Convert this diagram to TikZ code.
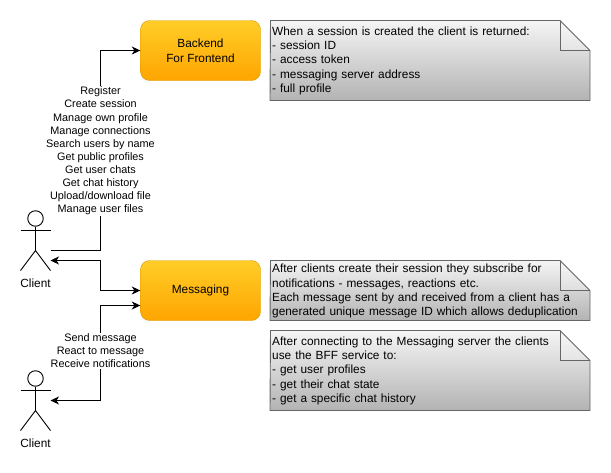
\documentclass[tikz,border=0pt]{standalone}
\usepackage{fontspec}
\setmainfont{Liberation Sans}
\usetikzlibrary{arrows.meta}
\definecolor{boxtop}{HTML}{FFCD28}
\definecolor{boxbot}{HTML}{FFA500}
\definecolor{boxline}{HTML}{D79B00}
\definecolor{notetop}{HTML}{F5F5F5}
\definecolor{notebot}{HTML}{B3B3B3}
\definecolor{noteline}{HTML}{666666}
\tikzset{
  service/.style={draw=boxline,rounded corners=9pt,top color=boxtop,bottom color=boxbot,
    minimum width=120pt,minimum height=60pt,inner sep=0pt,align=center,font=\fontsize{11.85}{15}\selectfont},
  notetext/.style={anchor=north west,inner sep=0pt,text width=316pt,align=left,font=\fontsize{11.85}{14.3}\selectfont},
  flowlabel/.style={fill=white,inner sep=0pt,inner ysep=1pt,align=center,font=\fontsize{10.85}{13.1}\selectfont},
  actorlabel/.style={inner sep=0pt,font=\fontsize{11.85}{14}\selectfont},
  actorline/.style={draw=black,line width=0.9pt},
  link/.style={draw=black,line width=0.9pt,-{Stealth[length=8.5pt,width=8pt,inset=2.5pt]}},
  bothlink/.style={draw=black,line width=0.9pt,{Stealth[length=8.5pt,width=8pt,inset=2.5pt]}-{Stealth[length=8.5pt,width=8pt,inset=2.5pt]}}
}
\newcommand{\notebox}[3]{%
  \shade[top color=notetop,bottom color=notebot] (#1,#2) -- (560,#2) -- (590,#2+30) -- (590,#3) -- (270,#3) -- cycle;
  \fill[white,opacity=0.25] (560,#2) -- (590,#2+30) -- (560,#2+30) -- cycle;
  \draw[noteline,line width=0.9pt,line join=miter] (#1,#2) -- (560,#2) -- (590,#2+30) -- (590,#3) -- (270,#3) -- cycle;
  \draw[noteline,line width=0.9pt] (560,#2) -- (560,#2+30) -- (590,#2+30);
}
\newcommand{\actorfig}[2]{%
  \node[circle,actorline,minimum size=15.5pt,inner sep=0pt] (#1head) at (35.5,#2+8) {};
  \draw[actorline] (#1head.south) -- (35.5,#2+40);
  \draw[actorline] (20.5,#2+20) -- (50.5,#2+20);
  \draw[actorline] (20.5,#2+60) -- (35.5,#2+40) -- (50.5,#2+60);
}
\begin{document}
\begin{tikzpicture}[x=1pt,y=-1pt]
\useasboundingbox (0,0) rectangle (611,472);

\node[service] (bff) at (200.5,50.5) {\raisebox{-0.5pt}{Backend}\\\raisebox{-0.5pt}{For Frontend}};
\node[service] (msg) at (200.5,290.5) {Messaging};

\actorfig{one}{210.5}
\node[actorlabel] (onename) at (35.5,283.5) {Client};
\actorfig{two}{370.5}
\node[actorlabel] (twoname) at (35.5,443.5) {Client};

\coordinate (oneout) at (50.5,250.5);
\coordinate (onein) at (50.5,260.5);
\coordinate (twoin) at (50.5,400.5);
\coordinate (msglow) at ([yshift=-15pt]msg.west);

\draw[link] (oneout) -| (100.5,200) |- (bff.west);
\draw[bothlink] (onein) -| (100.5,275) |- (msg.west);
\draw[bothlink] (twoin) -| (100.5,350) |- (msglow);

\node[flowlabel] (bfflabel) at (100.5,151) {Register\\Create session\\Manage own profile\\Manage connections\\Search users by name\\Get public profiles\\Get user chats\\Get chat history\\Upload/download file\\Manage user files};
\node[flowlabel] (msglabel) at (100.5,351) {Send message\\React to message\\Receive notifications};

\notebox{270.5}{20.5}{100.5}
\node[notetext] (noteone) at (272,26.5) {When a session is created the client is returned:\\- session ID\\- access token\\- messaging server address\\- full profile};
\notebox{270.5}{260.5}{320.5}
\node[notetext] (notetwo) at (272,264) {After clients create their session they subscribe for\\notifications - messages, reactions etc.\\Each message sent by and received from a client has a\\generated unique message ID which allows deduplication};
\notebox{270.5}{330.5}{410.5}
\node[notetext] (notethree) at (272,336.5) {After connecting to the Messaging server the clients\\use the BFF service to:\\- get user profiles\\- get their chat state\\- get a specific chat history};
\end{tikzpicture}
\end{document}
